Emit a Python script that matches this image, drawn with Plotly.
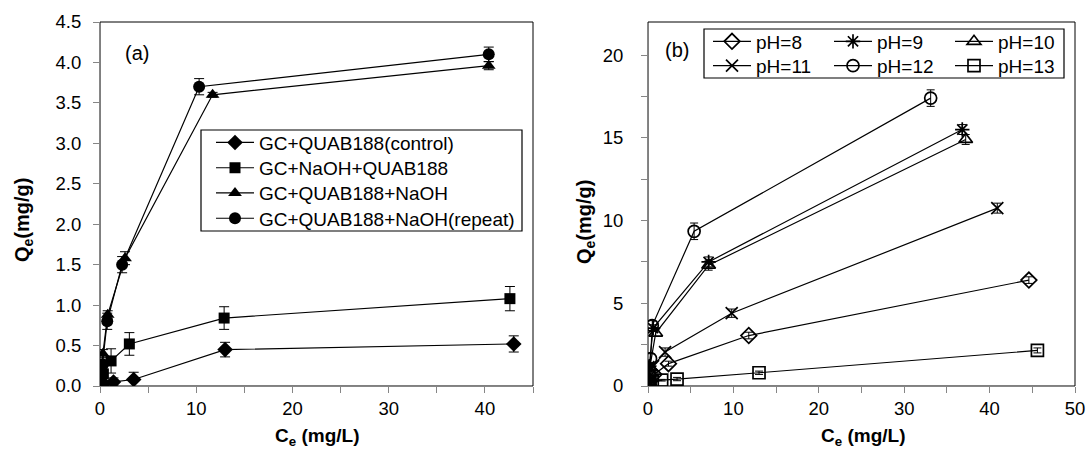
import plotly.graph_objects as go

FONT = "Liberation Sans, Arial, sans-serif"

# ---------------- Panel (a) data ----------------
a_names = ["GC+QUAB188(control)", "GC+NaOH+QUAB188", "GC+QUAB188+NaOH", "GC+QUAB188+NaOH(repeat)"]
a_symbols = ["diamond", "square", "triangle-up", "circle"]
a_sizes = [12, 11, 12, 12]

a_control_x = [0.1, 0.35, 1.4, 3.5, 13.0, 43.0]
a_control_y = [0.0, 0.03, 0.05, 0.08, 0.45, 0.52]
a_control_e = [0.02, 0.03, 0.05, 0.09, 0.09, 0.10]

a_naoh_first_x = [0.1, 0.35, 1.15, 3.05, 12.9, 42.6]
a_naoh_first_y = [0.03, 0.15, 0.31, 0.52, 0.84, 1.08]
a_naoh_first_e = [0.02, 0.04, 0.15, 0.14, 0.14, 0.15]

a_naoh_after_x = [0.1, 0.3, 0.8, 2.6, 11.7, 40.4]
a_naoh_after_y = [0.05, 0.4, 0.88, 1.58, 3.6, 3.96]
a_naoh_after_e = [0.02, 0.05, 0.05, 0.08, 0.03, 0.05]

a_repeat_x = [0.1, 0.25, 0.75, 2.3, 10.3, 40.4]
a_repeat_y = [0.03, 0.27, 0.8, 1.5, 3.7, 4.1]
a_repeat_e = [0.02, 0.05, 0.1, 0.1, 0.1, 0.09]

# ---------------- Panel (b) data ----------------
b_names = ["pH=8", "pH=9", "pH=10", "pH=11", "pH=12", "pH=13"]
b_symbols = ["diamond-open", "asterisk-open", "triangle-up-open", "x-thin-open", "circle-open", "square-open"]

b_ph8_x = [0.05, 0.2, 0.7, 2.4, 11.8, 44.6]
b_ph8_y = [0.1, 0.3, 0.7, 1.35, 3.05, 6.4]
b_ph8_e = [0.05, 0.1, 0.1, 0.15, 0.2, 0.2]

b_ph9_x = [0.05, 0.15, 0.6, 7.1, 36.8]
b_ph9_y = [0.3, 1.2, 3.5, 7.5, 15.5]
b_ph9_e = [0.1, 0.2, 0.2, 0.3, 0.3]

b_ph10_x = [0.05, 0.2, 0.9, 7.1, 37.2]
b_ph10_y = [0.3, 1.1, 3.2, 7.3, 14.9]
b_ph10_e = [0.1, 0.2, 0.2, 0.3, 0.3]

b_ph11_x = [0.05, 0.2, 0.6, 2.0, 9.8, 40.9]
b_ph11_y = [0.2, 0.6, 1.2, 2.05, 4.4, 10.75]
b_ph11_e = [0.1, 0.1, 0.2, 0.25, 0.25, 0.3]

b_ph12_x = [0.05, 0.15, 0.3, 0.5, 5.4, 33.1]
b_ph12_y = [0.2, 0.7, 1.65, 3.65, 9.35, 17.4]
b_ph12_e = [0.1, 0.2, 0.3, 0.3, 0.5, 0.5]

b_ph13_x = [0.05, 0.2, 0.5, 1.6, 3.4, 13.0, 45.6]
b_ph13_y = [0.05, 0.15, 0.25, 0.35, 0.42, 0.8, 2.15]
b_ph13_e = [0.05, 0.05, 0.05, 0.05, 0.1, 0.1, 0.15]

a_series = [
    (a_control_x, a_control_y, a_control_e),
    (a_naoh_first_x, a_naoh_first_y, a_naoh_first_e),
    (a_naoh_after_x, a_naoh_after_y, a_naoh_after_e),
    (a_repeat_x, a_repeat_y, a_repeat_e),
]
b_series = [
    (b_ph8_x, b_ph8_y, b_ph8_e),
    (b_ph9_x, b_ph9_y, b_ph9_e),
    (b_ph10_x, b_ph10_y, b_ph10_e),
    (b_ph11_x, b_ph11_y, b_ph11_e),
    (b_ph12_x, b_ph12_y, b_ph12_e),
    (b_ph13_x, b_ph13_y, b_ph13_e),
]

W, H = 1087, 450
T, B = 22, 64
PH = H - T - B

def px(x):
    return x / W

def py(y):
    return (H - B - y) / PH

# legend ids: one per row so rows are spaced exactly like the reference
a_legend_ids = ["legend", "legend2", "legend3", "legend4"]
b_legend_ids = ["legend5", "legend5", "legend5", "legend6", "legend6", "legend6"]

fig = go.Figure()

for name, sym, sz, (xs, ys, es), lg in zip(a_names, a_symbols, a_sizes, a_series, a_legend_ids):
    fig.add_trace(go.Scatter(
        x=xs, y=ys, name=name, mode="lines+markers",
        line=dict(color="black", width=1.2),
        marker=dict(symbol=sym, size=sz, color="black"),
        error_y=dict(type="data", array=es, color="black", thickness=1, width=5),
        xaxis="x", yaxis="y", legend=lg,
    ))

for name, sym, (xs, ys, es), lg in zip(b_names, b_symbols, b_series, b_legend_ids):
    fig.add_trace(go.Scatter(
        x=xs, y=ys, name=name, mode="lines+markers",
        line=dict(color="black", width=1.2),
        marker=dict(symbol=sym, size=12, color="black", line=dict(color="black", width=1.7)),
        error_y=dict(type="data", array=es, color="black", thickness=1, width=4),
        xaxis="x2", yaxis="y2", legend=lg,
    ))

axis_common = dict(
    showgrid=False, zeroline=False, showline=True, linecolor="#868686", linewidth=1,
    ticks="outside", tickcolor="#868686", ticklen=6, tickwidth=1,
    tickfont=dict(family=FONT, size=18.5, color="black"),
    automargin=False, ticklabeloverflow="allow",
)

legend_font = dict(family=FONT, size=19, color="black")
a_row_centers = [142.6, 167.9, 193.1, 218.4]
b_row_centers = [41.5, 65.8]

legends = {}
for lg, yc in zip(a_legend_ids, a_row_centers):
    legends[lg] = dict(x=px(211), y=py(yc), xanchor="left", yanchor="middle",
                       bgcolor="rgba(0,0,0,0)", borderwidth=0, font=legend_font,
                       itemwidth=38)
for lg, yc in zip(["legend5", "legend6"], b_row_centers):
    legends[lg] = dict(x=px(708), y=py(yc), xanchor="left", yanchor="middle",
                       orientation="h", entrywidth=68,
                       bgcolor="rgba(0,0,0,0)", borderwidth=0, font=legend_font,
                       itemwidth=38)

fig.update_layout(
    width=W, height=H,
    margin=dict(l=0, r=0, t=T, b=B, autoexpand=False),
    paper_bgcolor="white", plot_bgcolor="white",
    font=dict(family=FONT, size=18, color="black"),
    xaxis=dict(domain=[px(100), px(533)], range=[0, 45], dtick=10, anchor="y",
               minor=dict(dtick=5, ticks="outside", ticklen=6, tickcolor="#868686"),
               ticklabelstandoff=0, **axis_common),
    yaxis=dict(domain=[0, 1], range=[0, 4.5], dtick=0.5, tickformat=".1f", anchor="x",
               ticklabelstandoff=8, **axis_common),
    xaxis2=dict(domain=[px(648), px(1075)], range=[0, 50], dtick=10, anchor="y2",
                minor=dict(dtick=5, ticks="outside", ticklen=6, tickcolor="#868686"),
                ticklabelstandoff=0, **axis_common),
    yaxis2=dict(domain=[0, 1], range=[0, 22], dtick=5, anchor="x2",
                minor=dict(dtick=2.5, ticks="outside", ticklen=6, tickcolor="#868686"),
                ticklabelstandoff=14, **axis_common),
    showlegend=True,
    **legends,
)

# plot-area frames (top/right borders appear black)
for xr, yr in (("x domain", "y domain"), ("x2 domain", "y2 domain")):
    fig.add_shape(type="rect", xref=xr, yref=yr, x0=0, x1=1, y0=0, y1=1,
                  line=dict(color="black", width=1), layer="below")

# legend boxes
for (x0, y0, x1, y1) in ((201, 130, 522, 231), (704, 29, 1064, 78)):
    fig.add_shape(type="rect", xref="paper", yref="paper",
                  x0=px(x0), x1=px(x1), y0=py(y1), y1=py(y0),
                  line=dict(color="black", width=1.2), fillcolor="white", layer="above")

annots = [
    dict(text="(a)", x=px(137), y=py(53), size=20, angle=0),
    dict(text="(b)", x=px(677), y=py(50), size=20, angle=0),
    dict(text="<b>Q<sub>e</sub>(mg/g)</b>", x=px(23), y=py(220), size=20, angle=-90),
    dict(text="<b>Q<sub>e</sub>(mg/g)</b>", x=px(585), y=py(222), size=20, angle=-90),
    dict(text="<b>C<sub>e</sub> (mg/L)</b>", x=px(317), y=py(437), size=19, angle=0),
    dict(text="<b>C<sub>e</sub> (mg/L)</b>", x=px(863), y=py(437), size=19, angle=0),
]
for a in annots:
    fig.add_annotation(text=a["text"], x=a["x"], y=a["y"], xref="paper", yref="paper",
                       xanchor="center", yanchor="middle", showarrow=False,
                       textangle=a["angle"], font=dict(family=FONT, size=a["size"], color="black"))

fig.write_html(
    "out.html",
    config={"displayModeBar": False},
    post_script="document.body.style.margin='0';document.body.style.overflow='hidden';",
)
